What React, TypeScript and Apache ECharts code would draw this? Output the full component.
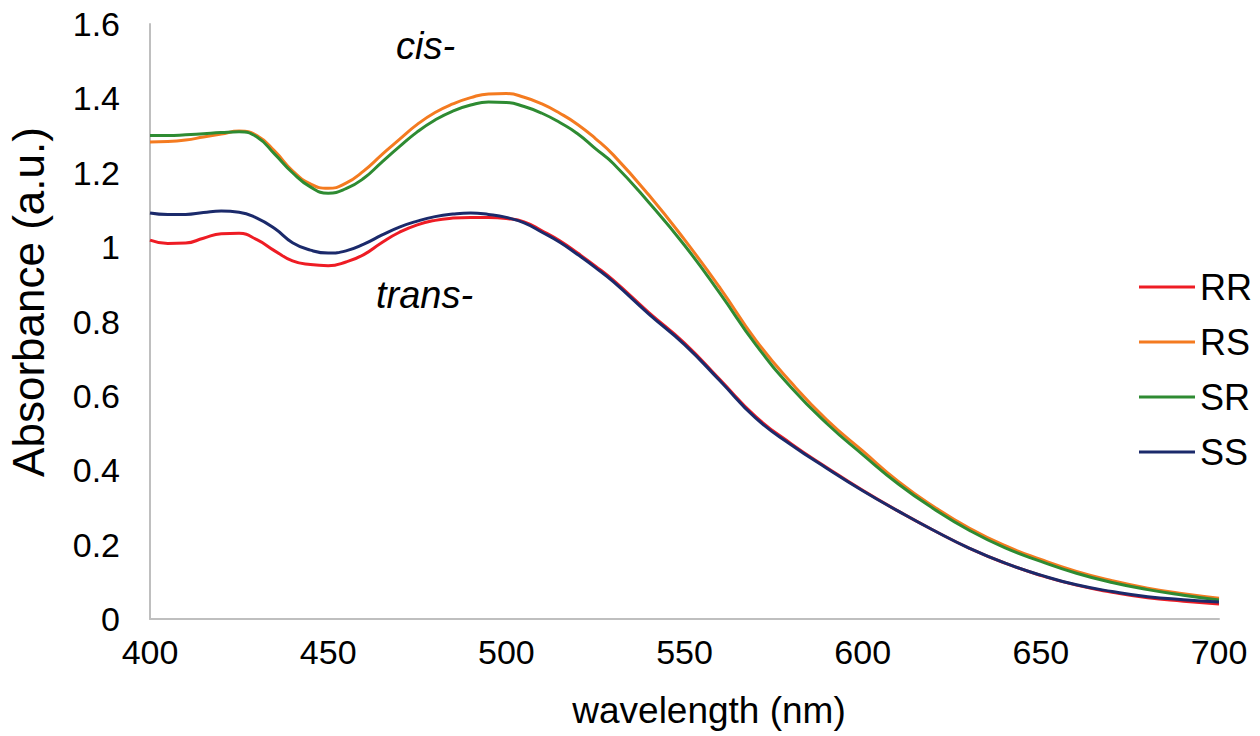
import React, { useEffect, useRef } from "react";
import * as echarts from "echarts";

const wavelengths = [400, 405, 410, 415, 420, 425, 430, 435, 440, 445, 450, 455, 460, 465, 470, 475, 480, 485, 490, 495, 500, 505, 510, 515, 520, 525, 530, 540, 550, 560, 570, 580, 590, 600, 610, 620, 630, 640, 650, 660, 670, 680, 690, 700];

const rr = [1.019, 1.010, 1.011, 1.024, 1.036, 1.037, 1.020, 0.990, 0.963, 0.953, 0.950, 0.960, 0.980, 1.012, 1.040, 1.060, 1.072, 1.078, 1.080, 1.080, 1.077, 1.068, 1.044, 1.017, 0.984, 0.949, 0.911, 0.824, 0.742, 0.643, 0.544, 0.471, 0.407, 0.346, 0.290, 0.238, 0.190, 0.150, 0.117, 0.091, 0.072, 0.057, 0.048, 0.040];
const rs = [1.283, 1.284, 1.288, 1.296, 1.304, 1.312, 1.300, 1.258, 1.205, 1.170, 1.158, 1.172, 1.205, 1.248, 1.290, 1.330, 1.362, 1.385, 1.402, 1.412, 1.413, 1.403, 1.385, 1.360, 1.330, 1.292, 1.248, 1.140, 1.020, 0.890, 0.750, 0.635, 0.535, 0.452, 0.370, 0.302, 0.244, 0.197, 0.160, 0.128, 0.103, 0.083, 0.068, 0.056];
const sr = [1.300, 1.300, 1.302, 1.305, 1.308, 1.310, 1.296, 1.250, 1.200, 1.162, 1.145, 1.157, 1.185, 1.228, 1.270, 1.310, 1.342, 1.366, 1.382, 1.390, 1.389, 1.378, 1.360, 1.335, 1.305, 1.265, 1.225, 1.120, 1.005, 0.875, 0.738, 0.622, 0.525, 0.442, 0.363, 0.296, 0.238, 0.191, 0.155, 0.123, 0.098, 0.079, 0.064, 0.051];
const ss = [1.092, 1.088, 1.088, 1.093, 1.097, 1.094, 1.078, 1.050, 1.012, 0.992, 0.984, 0.990, 1.008, 1.032, 1.054, 1.070, 1.082, 1.089, 1.092, 1.088, 1.080, 1.065, 1.040, 1.013, 0.980, 0.945, 0.907, 0.820, 0.738, 0.640, 0.540, 0.468, 0.405, 0.345, 0.290, 0.238, 0.190, 0.150, 0.118, 0.092, 0.074, 0.060, 0.052, 0.046];

const seriesNames = ["RR", "RS", "SR", "SS"];
const seriesValues = [rr, rs, sr, ss];
const seriesColors = ["#ee1c24", "#f47b20", "#2e8b32", "#1b2a6b"];

const xTicks = { min: 400, max: 700, interval: 50 };
const yTicks = { min: 0, max: 1.6, interval: 0.2 };

const FONT = "'Liberation Sans', Arial, Helvetica, sans-serif";

export default function App() {
  const ref = useRef<HTMLDivElement>(null);
  useEffect(() => {
    if (!ref.current) return;
    const chart = echarts.init(ref.current, null, { renderer: "svg" });
    chart.setOption({
      animation: false,
      backgroundColor: "#ffffff",
      grid: { left: 150, right: 41, top: 24, bottom: 117, outerBoundsMode: "none", containLabel: false },
      xAxis: {
        type: "value",
        min: xTicks.min,
        max: xTicks.max,
        interval: xTicks.interval,
        axisLine: { show: true, lineStyle: { color: "#bfbfbf", width: 2 } },
        axisTick: { show: false },
        splitLine: { show: false },
        axisLabel: { color: "#000", fontSize: 34, fontFamily: FONT, margin: 16 },
      },
      yAxis: {
        type: "value",
        min: yTicks.min,
        max: yTicks.max,
        interval: yTicks.interval,
        axisLine: { show: true, lineStyle: { color: "#bfbfbf", width: 2 } },
        axisTick: { show: false },
        splitLine: { show: false },
        axisLabel: { color: "#000", fontSize: 34, fontFamily: FONT, margin: 30 },
      },
      legend: {
        orient: "vertical",
        left: 1134,
        top: 264,
        icon: "rect",
        itemWidth: 56,
        itemHeight: 3,
        itemGap: 19,
        textStyle: { color: "#000", fontSize: 36, fontFamily: FONT },
        data: seriesNames,
      },
      graphic: [
        {
          type: "text",
          x: 28,
          y: 302,
          rotation: Math.PI / 2,
          style: { text: "Absorbance (a.u.)", font: `44px ${FONT}`, fill: "#000", align: "center", verticalAlign: "middle" },
        },
        {
          type: "text",
          x: 709,
          y: 710,
          style: { text: "wavelength (nm)", font: `37px ${FONT}`, fill: "#000", align: "center", verticalAlign: "middle" },
        },
        {
          type: "text",
          x: 396,
          y: 65,
          style: { text: "cis-", font: `italic 38px ${FONT}`, fill: "#000", align: "left", verticalAlign: "bottom" },
        },
        {
          type: "text",
          x: 376,
          y: 314,
          style: { text: "trans-", font: `italic 38px ${FONT}`, fill: "#000", align: "left", verticalAlign: "bottom" },
        },
      ],
      series: seriesNames.map((name, i) => ({
        name,
        type: "line",
        smooth: true,
        symbol: "none",
        color: seriesColors[i],
        lineStyle: { color: seriesColors[i], width: 3 },
        data: wavelengths.map((w, j) => [w, seriesValues[i][j]]),
      })),
    });
    return () => chart.dispose();
  }, []);
  return <div ref={ref} style={{ position: "fixed", left: 0, top: 0, width: 1260, height: 736 }} />;
}
